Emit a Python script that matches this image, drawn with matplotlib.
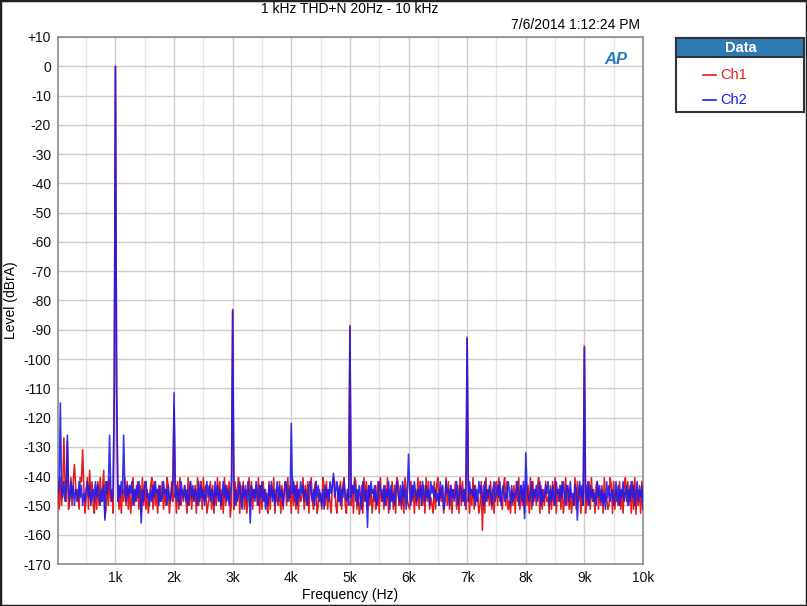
import numpy as np
import matplotlib
matplotlib.use('Agg')
import matplotlib.pyplot as plt
from matplotlib.patches import Rectangle
from matplotlib.ticker import MultipleLocator

plt.rcParams['font.family'] = ['Liberation Sans', 'DejaVu Sans']

# Data
title = '1 kHz THD+N 20Hz - 10 kHz'
timestamp = '7/6/2014 1:12:24 PM'
series_names = ['Ch1', 'Ch2']

# FFT bins (Hz), 20 Hz apart
freq = np.arange(20, 10001, 20)

# noise floor, one row per kHz, one digit per bin:
# level = -140.5 - 1.35 * digit  (dBrA)
ch1_noise_rows = [
    '18073916285071926380172950836179281706392817063918',
    '71829360718295073618290718396208173926518370295168',
    '29180736259071836290731806297518293706183907251869',
    '81730926182960718352709281637918250936719283170629',
    '07281936508271930682197358027183692017936182079351',
    '72901836729061827395287190638270936182901758290367',
    '81629370813729061857918207362960718293518290716382',
    '19370826597182906371839217065820718693729160827391',
    '72908163720928371659281709362819607283957081629370',
    '92718063921837290658702918367183920617291806372918',
]
ch2_noise_rows = [
    '42735162436152734615274631527436152473625142736415',
    '36251473625241736251473621547362514372651437256314',
    '52637145263741526347162537415263471526374152637415',
    '27364158253614725361472516384725163741625374126358',
    '41627351426357214637152647382536142753162735146372',
    '52416372581463725143627513462735182647314627153846',
    '37251463527146253714253647152861437253641752463715',
    '61435273614257163524731642517326451372645317426153',
    '25641735264173652417362571436251472361547236415273',
    '46172536471526374815264375162735164273615274163528',
]

# harmonics, hum spurs and deep noise dips (Hz, dBrA)
ch1_spur_freq = [120, 180, 300, 440, 560, 800, 820, 980, 1000, 1020, 2000, 2960,
                 3000, 5000, 5160, 7000, 7260, 9000, 9880]
ch1_spur_level = [-127, -128, -136, -131, -138, -138, -154, -110, 0, -110, -116, -154,
                  -83, -88.5, -153, -92.5, -158.5, -95.5, -153]
ch2_spur_freq = [60, 180, 820, 900, 980, 1000, 1020, 1140, 1440, 2000, 3000, 3300,
                 4000, 4720, 5000, 5300, 6000, 7000, 7980, 8000, 8880, 9000]
ch2_spur_level = [-115, -126, -155, -126, -110, 0, -110, -126, -156, -111.5, -83.5, -156,
                  -122, -139, -89, -157.5, -132.5, -93, -154.5, -132, -155, -96]

colors = ['#e41c1c', '#1c1cf0']


def spectrum(rows, spur_freq, spur_level):
    digits = np.array([int(c) for c in ''.join(rows)])
    level = -140.5 - 1.35 * digits
    for f, v in zip(spur_freq, spur_level):
        level[freq == f] = v
    return level


fig = plt.figure(figsize=(8.07, 6.06), dpi=100)
ax = fig.add_axes([58 / 807, 1 - 564 / 606, 585 / 807, 527 / 606])

ax.plot(freq, spectrum(ch1_noise_rows, ch1_spur_freq, ch1_spur_level),
        color=colors[0], lw=1.15, zorder=3)
ax.plot(freq, spectrum(ch2_noise_rows, ch2_spur_freq, ch2_spur_level),
        color=colors[1], lw=1.15, alpha=0.9, zorder=4)

ax.set_xlim(20, 10000)
ax.set_ylim(-170, 10)
ax.xaxis.set_minor_locator(MultipleLocator(500))
ax.set_xticks(np.arange(1000, 10001, 1000))
ax.set_xticklabels(['%dk' % k for k in range(1, 11)])
yt = np.arange(-170, 11, 10)
ax.set_yticks(yt)
ax.set_yticklabels(['+%d' % t if t > 0 else '%d' % t for t in yt])
ax.tick_params(which='both', length=0, labelsize=10, pad=5, colors='#111111')

ax.grid(True, which='major', color='#cdcdcd', lw=1.0, zorder=0)
ax.grid(True, which='minor', axis='x', color='#e6e6e6', lw=1.0, zorder=0)
for s in ax.spines.values():
    s.set_color('#8c8c8c')
    s.set_linewidth(1.2)

ax.set_xlabel('Frequency (Hz)', fontsize=10, labelpad=2)
ax.set_ylabel('Level (dBrA)', fontsize=10)
ax.yaxis.set_label_coords(-0.068, 0.5)

fig.text(350 / 807, 1 - 9 / 606, title, ha='center', va='center', fontsize=10)
fig.text(640 / 807, 1 - 25 / 606, timestamp, ha='right', va='center', fontsize=10)
fig.text(616 / 807, 1 - 60 / 606, 'AP', ha='center', va='center', fontsize=12,
         fontweight='bold', style='italic', color='#2a79c0')

# legend box
bx0, by0, bw, bh = 676 / 807, 1 - 112 / 606, 128 / 807, 74 / 606
fig.patches.append(Rectangle((bx0, by0), bw, bh, transform=fig.transFigure,
                             facecolor='white', edgecolor='#333333', lw=1.5, zorder=1))
fig.patches.append(Rectangle((bx0, 1 - 57 / 606), bw, 19 / 606, transform=fig.transFigure,
                             facecolor='#2e7bb4', edgecolor='#333333', lw=1.5, zorder=2))
fig.text(741 / 807, 1 - 48 / 606, 'Data', ha='center', va='center', fontsize=10.5,
         fontweight='bold', color='white')
for i, (name, c) in enumerate(zip(series_names, colors)):
    y = 1 - (75 + 25 * i) / 606
    fig.lines.append(plt.Line2D([703 / 807, 716 / 807], [y, y], transform=fig.transFigure,
                                color=c, lw=1.2))
    fig.text(720 / 807, y, name, ha='left', va='center', fontsize=10.5, color=c)

# outer frame
fig.patches.append(Rectangle((0, 0), 1, 1, transform=fig.transFigure, fill=False,
                             edgecolor='#222222', lw=2.5))

fig.savefig('out.png', dpi=100)
